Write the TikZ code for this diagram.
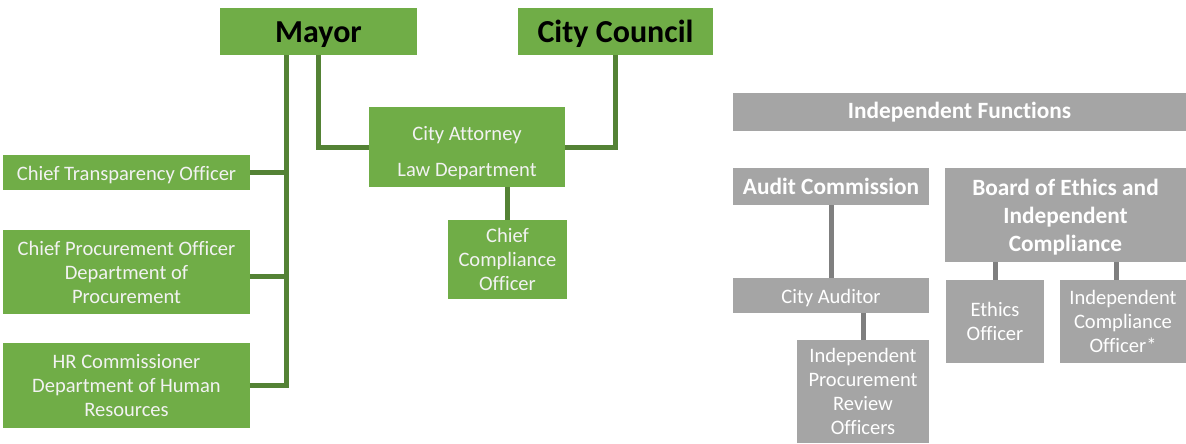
\documentclass[tikz,border=0pt]{standalone}
\usepackage{fontspec}
\setmainfont[Ligatures={NoCommon,NoRare,NoContextual}]{Carlito}
\usepackage{tikz}
\usetikzlibrary{calc}
\definecolor{officegreen}{HTML}{70AD47}
\definecolor{darkgreen}{HTML}{548235}
\definecolor{officegrey}{HTML}{A5A5A5}
\definecolor{darkgrey}{HTML}{7F7F7F}
\tikzstyle{line} = [draw=darkgreen, line width=3.75pt]
\tikzstyle{greyline} = [draw=darkgrey, line width=3.75pt]
\tikzstyle{block} = [fill=officegreen, rectangle, align=center, inner sep=0pt, text=white!95!black, font=\fontsize{15.4}{18}\selectfont]
\tikzstyle{topblock} = [block, text=black, font=\fontsize{24}{28}\selectfont\bfseries]
\tikzstyle{gblock} = [fill=officegrey, rectangle, align=center, inner sep=0pt, text=white, font=\fontsize{15.4}{18}\selectfont]
\tikzstyle{ghead} = [gblock, font=\fontsize{17.5}{21}\selectfont\bfseries]

\begin{document}
\begin{tikzpicture}[x=0.75pt, y=0.75pt]
        \useasboundingbox (0,0) rectangle (1186,-443);
        % elected offices
        \node[topblock, minimum width=147.75pt, minimum height=35.25pt] (mayor) at (318.5,-31.5) {\rule{0pt}{20pt}Mayor};
        \node[topblock, minimum width=146.25pt, minimum height=35.25pt] (council) at (615.5,-31.5) {\rule{0pt}{20pt}City Council};
        \node[block, minimum width=147pt, minimum height=60pt] (attorney) at (467,-147) {\rule{0pt}{20pt}City Attorney\\[9pt]Law Department};
        \node[block, minimum width=89.25pt, minimum height=59.25pt] (compliance) at (507.5,-259.5) {Chief\\Compliance\\Officer};
        \node[block, minimum width=185.25pt, minimum height=26.25pt] (transparency) at (126.5,-172.5) {\rule{0pt}{14pt}Chief Transparency Officer};
        \node[block, minimum width=185.25pt, minimum height=63pt] (procurement) at (126.5,-272) {Chief Procurement Officer\\Department of\\Procurement};
        \node[block, minimum width=185.25pt, minimum height=63.75pt] (hr) at (126.5,-385.5) {HR Commissioner\\Department of Human\\Resources};
        % independent functions
        \node[ghead, minimum width=339.75pt, minimum height=28.5pt] (indep) at (959.5,-112) {Independent Functions};
        \node[ghead, minimum width=147pt, minimum height=27.75pt] (audit) at (831,-186.5) {Audit Commission};
        \node[ghead, minimum width=180.75pt, minimum height=70.5pt] (board) at (1065.5,-215) {\rule{0pt}{16pt}Board of Ethics and\\Independent\\Compliance};
        \node[gblock, minimum width=147pt, minimum height=26.25pt] (auditor) at (831,-295.5) {\rule{0pt}{14pt}City Auditor};
        \node[gblock, minimum width=99pt, minimum height=77.25pt] (ipro) at (863,-391.5) {Independent\\Procurement\\Review\\Officers};
        \node[gblock, minimum width=73.5pt, minimum height=62.25pt] (ethics) at (995,-321.5) {Ethics\\Officer};
        \node[gblock, minimum width=94.5pt, minimum height=62.25pt] (ico) at (1123,-321.5) {Independent\\Compliance\\Officer*};
        % green connectors
        \coordinate (trunk) at (286,-385.5);
        \path[line] ($(mayor.south)+(-32.5,0)$) -- ($(trunk)+(0,-2.5)$);
        \path[line] (transparency.east) -- (transparency.east -| trunk);
        \path[line] ($(procurement.east)+(0,-4)$) -- ($(procurement.east -| trunk)+(0,-4)$);
        \path[line] (hr.east) -- ($(trunk)+(2.5,0)$);
        \path[line] (mayor.south) |- (attorney.west);
        \path[line] (council.south) |- (attorney.east);
        \path[line] (compliance.north) -- (compliance.north |- attorney.south);
        % grey connectors
        \path[greyline] (audit.south) -- (auditor.north);
        \path[greyline] (ipro.north) -- (ipro.north |- auditor.south);
        \path[greyline] (ethics.north) -- (ethics.north |- board.south);
        \path[greyline] ($(ico.north)+(-7,0)$) -- ($(ico.north |- board.south)+(-7,0)$);
    \end{tikzpicture}
\end{document}
